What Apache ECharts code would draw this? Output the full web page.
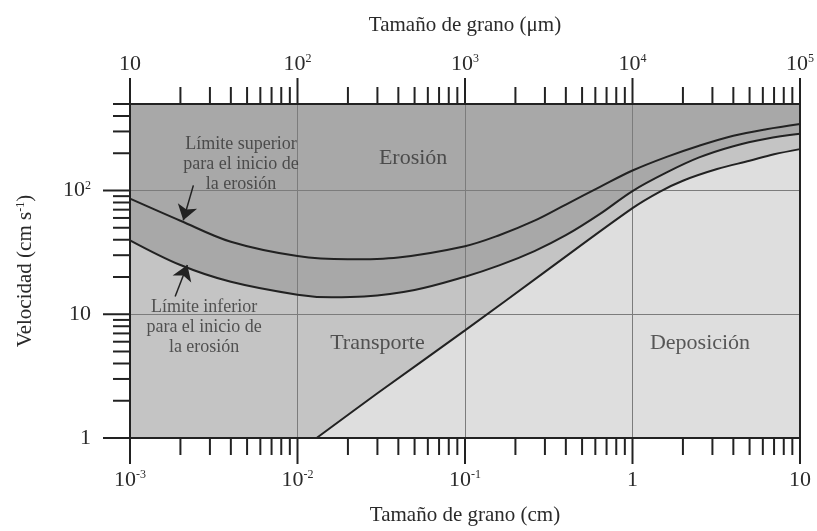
<!DOCTYPE html>
<html><head><meta charset="utf-8">
<script src="https://cdn.jsdelivr.net/npm/echarts@6/dist/echarts.min.js"></script>
<style>html,body{margin:0;padding:0;background:#fff}#c{width:817px;height:531px}</style>
</head><body><div id="c"></div>
<script>
// ---- data (grain size in cm, velocity in cm/s) ----
const sizeUpper = [0.001, 0.002, 0.004, 0.01, 0.02, 0.04, 0.1, 0.16, 0.26, 0.4, 0.64, 1, 1.6, 2.5, 4, 6.3, 10];
const velUpper  = [86, 57, 38.5, 29.5, 27.8, 28.8, 35.5, 43.5, 57, 77, 107, 145, 187, 230, 277, 313, 345];
const sizeLower = [0.001, 0.002, 0.004, 0.01, 0.016, 0.025, 0.05, 0.1, 0.16, 0.26, 0.4, 0.64, 1, 1.6, 2.5, 4, 6.3, 10];
const velLower  = [39.6, 25, 18.3, 14.4, 13.7, 13.9, 15.7, 20.1, 24.8, 32.4, 43.5, 64.7, 99, 140, 185, 228, 262, 287];
const sizeDepo  = [0.013, 0.03, 0.1, 0.3, 1, 1.46, 2, 3.2, 5, 7, 10];
const velDepo   = [1, 2.3, 7.4, 22, 72, 98, 120, 149, 174, 196, 216];

// ---- axes ----
const xTicksCm = [0.001, 0.01, 0.1, 1, 10];
const xTicksUm = [10, 100, 1000, 10000, 100000];
const yTicks   = [1, 10, 100];
const yMax = 500;

// ---- annotations ----
const regionLabels = [
  {name: 'Erosión', x: 0.049, y: 181},
  {name: 'Transporte', x: 0.030, y: 5.87},
  {name: 'Deposición', x: 2.53, y: 5.87}
];
const noteLabels = [
  {name: 'Límite superior\npara el inicio de\nla erosión', x: 0.0046, y: 162},
  {name: 'Límite inferior\npara el inicio de\nla erosión', x: 0.00277, y: 7.9}
];
const arrows = [
  [[0.00239, 110], [0.00208, 57.4]],
  [[0.00186, 13.9], [0.0022, 25]]
];

const FONT = '"Liberation Serif", "Times New Roman", serif';
const TXT = '#2a2a2a';
const zip = (a, b) => a.map((v, i) => [v, b[i]]);
function minorOf(decades, max) {
  const out = [];
  decades.forEach(d => { for (let k = 2; k <= 9; k++) { if (d * k <= max * 1.0001) out.push(d * k); } });
  return out;
}
function supFmt(v) {
  const e = Math.round(Math.log10(v));
  if (e === 0) return '1';
  if (e === 1) return '10';
  return '10{s|' + e + '}';
}
const rich = { s: { fontSize: 12, verticalAlign: 'top', lineHeight: 12, fontFamily: FONT, color: TXT } };

function tickSeries(values, len, side, xIdx) {
  return {
    type: 'custom', xAxisIndex: xIdx, yAxisIndex: 0, silent: true, z: 8, clip: false,
    data: values.map(v => side === 'left' ? [xTicksCm[0], v] : [v, side === 'top' ? yMax : yTicks[0]]),
    renderItem: function (params, api) {
      const p = api.coord([api.value(0), api.value(1)]);
      let s;
      if (side === 'bottom') s = {x1: p[0], y1: p[1], x2: p[0], y2: p[1] + len};
      else if (side === 'top') s = {x1: p[0], y1: p[1], x2: p[0], y2: p[1] - len};
      else s = {x1: p[0], y1: p[1], x2: p[0] - len, y2: p[1]};
      return {type: 'line', shape: s, style: {stroke: '#222', lineWidth: 2}};
    }
  };
}
function textSeries(items, size, lh) {
  return {
    type: 'scatter', z: 7, silent: true, symbol: 'circle', symbolSize: 0,
    itemStyle: {color: 'rgba(0,0,0,0)'},
    data: items.map(d => ({name: d.name, value: [d.x, d.y]})),
    label: {show: true, position: 'inside', formatter: '{b}', fontFamily: FONT, fontSize: size,
            lineHeight: lh, align: 'center', verticalAlign: 'middle', color: '#333'}
  };
}

const chart = echarts.init(document.getElementById('c'));
const axisNameStyle = {fontFamily: FONT, fontSize: 21, color: TXT, rich: rich};
chart.setOption({
  animation: false,
  grid: {left: 130, right: 17, top: 104, bottom: 92, show: true, backgroundColor: '#a8a8a8', borderWidth: 0},
  xAxis: [
    {type: 'log', logBase: 10, min: xTicksCm[0], max: xTicksCm[4], position: 'bottom', z: 3,
     name: 'Tamaño de grano (cm)', nameLocation: 'middle', nameGap: 67, nameTextStyle: axisNameStyle,
     axisLine: {onZero: false, lineStyle: {color: '#222', width: 2}},
     axisTick: {show: false},
     axisLabel: {margin: 31, fontFamily: FONT, fontSize: 22, color: TXT, formatter: supFmt, rich: rich},
     splitLine: {show: true, lineStyle: {color: '#7c7c7c', width: 1}}},
    {type: 'log', logBase: 10, min: xTicksUm[0], max: xTicksUm[4], position: 'top', z: 3,
     name: 'Tamaño de grano (μm)', nameLocation: 'middle', nameGap: 68, nameTextStyle: axisNameStyle,
     axisLine: {onZero: false, lineStyle: {color: '#222', width: 2}},
     axisTick: {show: false},
     axisLabel: {margin: 29, fontFamily: FONT, fontSize: 22, color: TXT, formatter: supFmt, rich: rich},
     splitLine: {show: false}}
  ],
  yAxis: [
    {type: 'log', logBase: 10, min: yTicks[0], max: yMax, position: 'left', z: 3,
     name: 'Velocidad (cm s{s|-1})', nameLocation: 'middle', nameGap: 94, nameTextStyle: axisNameStyle,
     axisLine: {onZero: false, lineStyle: {color: '#222', width: 2}},
     axisTick: {show: false},
     axisLabel: {margin: 39, fontFamily: FONT, fontSize: 22, color: TXT, formatter: supFmt, rich: rich, showMaxLabel: false},
     splitLine: {show: true, lineStyle: {color: '#7c7c7c', width: 1}}},
    {type: 'log', logBase: 10, min: yTicks[0], max: yMax, position: 'right', z: 3,
     axisLine: {onZero: false, lineStyle: {color: '#222', width: 2}},
     axisTick: {show: false}, axisLabel: {show: false}, splitLine: {show: false}}
  ],
  series: [
    {type: 'line', z: 1, data: zip(sizeLower, velLower), smooth: 0.35, symbol: 'none',
     lineStyle: {width: 0}, areaStyle: {origin: 'start', color: '#c4c4c4', opacity: 1}, silent: true},
    {type: 'line', z: 1, data: zip(sizeDepo, velDepo), smooth: 0.35, symbol: 'none',
     lineStyle: {width: 0}, areaStyle: {origin: 'start', color: '#dedede', opacity: 1}, silent: true},
    {type: 'line', z: 5, data: zip(sizeUpper, velUpper), smooth: 0.35, symbol: 'none',
     lineStyle: {color: '#222', width: 2}, silent: true},
    {type: 'line', z: 5, data: zip(sizeLower, velLower), smooth: 0.35, symbol: 'none',
     lineStyle: {color: '#222', width: 2}, silent: true},
    {type: 'line', z: 5, data: zip(sizeDepo, velDepo), smooth: 0.35, symbol: 'none',
     lineStyle: {color: '#222', width: 2}, silent: true},
    {type: 'lines', coordinateSystem: 'cartesian2d', z: 6, silent: true,
     symbol: ['none', 'arrow'], symbolSize: 15,
     lineStyle: {color: '#222', width: 1.5, opacity: 1},
     data: arrows.map(c => ({coords: c}))},
    textSeries(regionLabels, 22, 24),
    textSeries(noteLabels, 18, 20),
    tickSeries(xTicksCm, 26, 'bottom', 0),
    tickSeries(minorOf(xTicksCm.slice(0, 4), 10), 17, 'bottom', 0),
    tickSeries(xTicksUm, 26, 'top', 1),
    tickSeries(minorOf(xTicksUm.slice(0, 4), 100000), 17, 'top', 1),
    tickSeries(yTicks, 27, 'left', 0),
    tickSeries(minorOf(yTicks, yMax), 17, 'left', 0)
  ]
});
</script></body></html>
